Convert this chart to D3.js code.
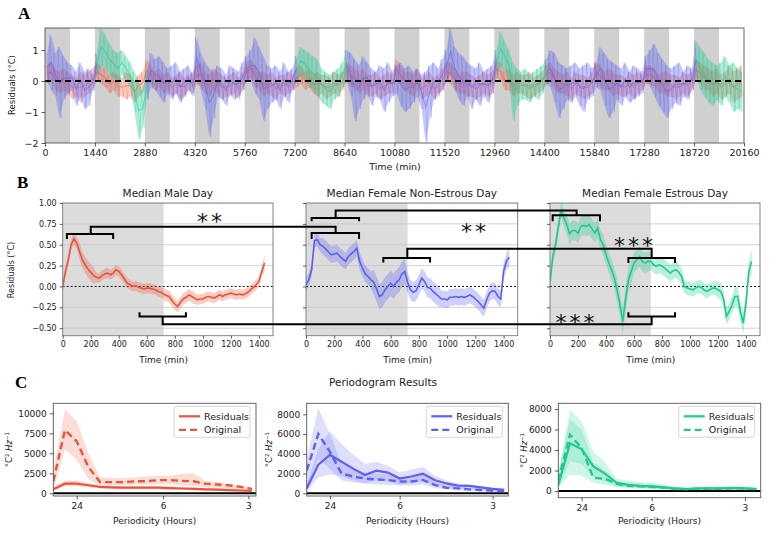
<!DOCTYPE html>
<html>
<head>
<meta charset="utf-8">
<script src="https://cdn.jsdelivr.net/npm/d3@7"></script>
<style>
body{margin:0;background:#fff}
svg{display:block;font-family:"DejaVu Sans",sans-serif}
</style>
</head>
<body>
<svg id="fig" width="777" height="535"></svg>
<script>
// ---- panel A : 14 days, 120 min bins (envelope of the traces) ----
var aTicks = d3.range(0, 20161, 1440);
var estrousDays = [1, 5, 9, 13];
var maleHi = [
 0.5,0.6,0.4,0.3,0.4,0.3, 0.2,0.1,0.3,0.2,0.3,0.4,
 0.6,0.5,0.4,0.2,0.3,0.2, 0.1,0.3,0.2,0.0,0.2,0.3,
 0.7,0.5,0.3,0.4,0.2,0.3, 0.1,0.2,0.3,0.1,0.2,0.3,
 0.5,0.6,0.3,0.2,0.4,0.3, 0.2,0.1,0.2,0.3,0.1,0.3,
 0.6,0.7,0.5,0.3,0.3,0.2, 0.3,0.1,0.2,0.2,0.3,0.2,
 0.4,0.5,0.3,0.4,0.2,0.3, 0.2,0.2,0.1,0.3,0.2,0.3,
 0.6,0.5,0.4,0.3,0.4,0.2, 0.2,0.3,0.1,0.2,0.3,0.2,
 0.7,0.5,0.3,0.3,0.2,0.4, 0.1,0.2,0.3,0.1,0.2,0.4,
 0.6,0.6,0.4,0.2,0.3,0.3, 0.2,0.1,0.2,0.3,0.2,0.3,
 0.7,0.6,0.3,0.4,0.2,0.3, 0.2,0.2,0.3,0.1,0.2,0.3,
 0.5,0.6,0.4,0.3,0.2,0.3, 0.1,0.3,0.2,0.2,0.1,0.3,
 0.6,0.5,0.3,0.4,0.3,0.2, 0.2,0.1,0.3,0.2,0.3,0.2,
 0.5,0.5,0.4,0.2,0.3,0.3, 0.2,0.2,0.1,0.3,0.2,0.3,
 0.7,0.6,0.5,0.4,0.3,0.4, 0.2,0.3,0.5,0.3,0.4,0.5
];
var maleLo = [
 -0.1,0.0,-0.3,-0.4,-0.3,-0.4, -0.6,-0.5,-0.7,-0.5,-0.4,-0.3,
 0.0,-0.1,-0.2,-0.4,-0.3,-0.5, -0.5,-0.6,-0.5,-0.7,-0.5,-0.4,
 0.0,-0.1,-0.3,-0.2,-0.4,-0.3, -0.5,-0.4,-0.6,-0.5,-0.3,-0.4,
 -0.1,-0.2,-0.4,-0.5,-0.3,-0.4, -0.6,-0.5,-0.5,-0.4,-0.6,-0.3,
 0.0,0.1,-0.2,-0.3,-0.5,-0.4, -0.5,-0.6,-0.4,-0.5,-0.4,-0.3,
 -0.2,-0.1,-0.3,-0.2,-0.4,-0.5, -0.4,-0.6,-0.5,-0.4,-0.5,-0.3,
 0.0,-0.2,-0.2,-0.4,-0.3,-0.5, -0.5,-0.4,-0.6,-0.5,-0.4,-0.4,
 0.1,-0.1,-0.3,-0.4,-0.5,-0.3, -0.6,-0.5,-0.4,-0.6,-0.5,-0.3,
 0.0,-0.1,-0.3,-0.4,-0.4,-0.5, -0.5,-0.6,-0.5,-0.4,-0.5,-0.4,
 0.1,0.0,-0.3,-0.3,-0.5,-0.4, -0.4,-0.5,-0.6,-0.5,-0.4,-0.3,
 -0.1,0.0,-0.3,-0.4,-0.4,-0.5, -0.6,-0.4,-0.5,-0.6,-0.5,-0.4,
 0.0,-0.2,-0.3,-0.3,-0.5,-0.4, -0.5,-0.5,-0.4,-0.6,-0.4,-0.3,
 -0.1,-0.1,-0.2,-0.4,-0.4,-0.5, -0.5,-0.6,-0.5,-0.4,-0.5,-0.3,
 0.0,-0.1,-0.3,-0.3,-0.5,-0.4, -0.6,-0.5,-0.4,-0.7,-0.6,-0.5
];
var femHi = [
 0.9,1.5,0.9,1.1,0.8,0.6, 0.5,0.3,0.6,0.3,0.4,0.2,
 0.9,1.7,1.5,1.2,1.0,0.9, 1.0,0.8,0.6,0.3,0.0,-0.3,
 0.3,0.9,0.7,0.8,0.6,0.4, 0.5,0.6,0.3,0.4,0.5,0.2,
 1.4,0.9,0.6,0.4,0.3,0.5, 0.4,0.2,0.5,0.4,0.3,0.6,
 0.8,1.0,1.4,1.1,0.8,0.5, 0.4,0.5,0.3,0.6,0.3,0.4,
 0.8,1.1,1.0,0.9,0.8,0.7, 0.4,0.3,0.2,0.3,0.4,0.6,
 1.0,0.9,0.7,0.5,0.8,0.6, 0.4,0.3,0.5,0.4,0.6,0.3,
 0.5,0.6,0.4,0.5,0.3,0.4, 0.2,0.3,0.5,0.6,0.4,0.7,
 1.0,1.7,1.1,0.9,0.8,0.6, 0.5,0.4,0.6,0.3,0.4,0.5,
 1.0,1.6,1.3,1.0,0.6,0.4, 0.3,0.4,0.2,0.3,0.4,0.5,
 0.7,1.0,0.9,0.6,0.5,0.4, 0.5,0.6,0.4,0.5,0.6,0.4,
 0.6,1.1,0.9,0.7,0.6,0.5, 0.4,0.6,0.3,0.5,0.4,0.3,
 0.8,1.0,1.2,0.9,0.7,0.5, 0.4,0.5,0.6,0.3,0.5,0.4,
 1.3,1.1,0.9,0.7,0.6,0.5, 0.6,0.8,0.5,0.6,0.4,0.3
];
var femLo = [
 0.0,-0.3,-0.5,-1.2,-0.6,-0.4, -0.3,-0.8,-0.5,-0.9,-0.8,-0.3,
 0.2,0.5,0.4,0.2,0.1,-0.1, 0.2,0.0,-0.2,-1.0,-1.9,-1.5,
 -0.6,-0.2,-0.3,-0.5,-0.7,-0.4, -0.6,-0.4,-0.7,-0.5,-0.3,-0.5,
 0.1,-0.3,-0.9,-1.8,-1.2,-0.5, -0.6,-0.8,-0.4,-0.6,-0.5,-0.3,
 0.0,0.0,-0.4,-0.6,-1.3,-0.9, -0.7,-0.6,-0.9,-0.5,-0.7,-0.3,
 0.0,0.2,0.1,-0.2,-0.3,-0.5, -0.7,-0.8,-0.9,-0.6,-0.5,-0.2,
 0.0,-0.5,-1.3,-0.9,-0.6,-0.4, -0.8,-0.5,-0.6,-1.0,-0.7,-0.5,
 -0.4,-0.8,-1.0,-0.9,-0.7,-0.5, -0.9,-2.0,-1.2,-0.6,-0.4,-0.3,
 0.0,0.2,-0.3,-0.6,-0.8,-0.5, -0.9,-0.6,-0.8,-0.5,-0.7,-0.4,
 0.2,0.5,0.3,0.0,-1.3,-0.8, -0.6,-0.6,-0.7,-0.5,-0.6,-0.4,
 -0.1,-0.2,-0.7,-1.2,-0.9,-0.6, -0.7,-0.5,-0.8,-1.0,-0.6,-0.5,
 -0.2,-0.3,-0.8,-1.2,-1.0,-0.6, -0.8,-0.5,-0.7,-0.6,-0.5,-0.4,
 0.0,-0.2,-0.5,-0.8,-1.0,-1.2, -0.9,-0.7,-0.8,-0.5,-0.6,-0.3,
 0.1,-0.3,-0.5,-0.7,-0.8,-0.6, -0.8,-0.5,-0.7,-1.0,-0.9,-1.0
];

// ---- panel B : median day, every 20 min ----
var bTitles = ["Median Male Day", "Median Female Non-Estrous Day", "Median Female Estrous Day"];
var bMale = [0.0,0.18,0.32,0.5,0.57,0.52,0.42,0.32,0.26,0.21,0.17,0.13,0.11,0.1,0.13,0.15,0.16,0.14,0.16,0.2,
 0.18,0.14,0.09,0.04,0.02,0.0,0.01,-0.01,-0.02,-0.03,-0.02,-0.02,-0.03,-0.04,-0.06,-0.07,-0.09,-0.11,-0.12,-0.17,
 -0.21,-0.24,-0.19,-0.15,-0.13,-0.1,-0.12,-0.14,-0.16,-0.15,-0.15,-0.13,-0.12,-0.13,-0.14,-0.12,-0.1,-0.12,-0.1,-0.09,
 -0.08,-0.09,-0.1,-0.09,-0.1,-0.09,-0.07,-0.04,-0.01,0.02,0.06,0.18,0.28];
var bNonEst = [0.02,0.08,0.2,0.55,0.56,0.5,0.48,0.45,0.41,0.38,0.39,0.4,0.36,0.33,0.3,0.36,0.39,0.42,0.46,0.3,
 0.22,0.15,0.12,0.08,0.05,-0.03,-0.12,-0.1,-0.04,0.0,0.04,0.0,0.05,0.08,0.15,0.18,0.05,-0.04,-0.07,-0.05,
 0.02,0.1,0.06,-0.01,-0.02,-0.06,-0.09,-0.12,-0.15,-0.15,-0.16,-0.13,-0.13,-0.12,-0.13,-0.12,-0.13,-0.12,-0.1,-0.12,
 -0.15,-0.18,-0.22,-0.26,-0.16,-0.08,-0.05,-0.06,-0.12,-0.15,0.18,0.3,0.35];
var bEstrous = [0.05,0.36,0.5,0.72,0.92,0.82,0.74,0.63,0.67,0.67,0.64,0.72,0.73,0.72,0.74,0.69,0.64,0.7,0.56,0.5,
 0.38,0.28,0.2,0.1,-0.05,-0.22,-0.42,-0.15,0.08,0.18,0.28,0.32,0.36,0.3,0.28,0.3,0.3,0.26,0.24,0.26,
 0.24,0.22,0.19,0.16,0.19,0.2,0.17,0.12,0.0,-0.02,-0.03,-0.04,-0.02,0.0,-0.01,-0.04,-0.06,-0.04,-0.02,-0.02,
 -0.04,-0.06,-0.15,-0.36,-0.3,-0.22,-0.12,-0.12,-0.3,-0.44,-0.2,0.18,0.3];
// half width of the shaded band, per 120 min block
var bMaleErr = [0.07,0.1,0.06,0.06,0.06,0.06,0.07,0.07,0.06,0.06,0.06,0.06,0.1];
var bNonEstErr = [0.08,0.1,0.1,0.1,0.15,0.15,0.12,0.12,0.1,0.1,0.1,0.1,0.12];
var bEstrousErr = [0.1,0.12,0.12,0.12,0.15,0.12,0.1,0.1,0.08,0.08,0.1,0.12,0.15];
var bXTicks = [0,200,400,600,800,1000,1200,1400];
var bYTicks = [-0.5,-0.25,0,0.25,0.5,0.75,1.0];

// ---- panel C : periodograms, frequency bins ----
var cPeriodLabels = ["24", "6", "3"];
var cMaleRes = [500,1200,1200,1000,800,750,700,700,700,700,650,600,550,500,450,400,350,300];
var cMaleResLo = [300,900,900,750,600,550,500,500,500,500,450,420,380,350,300,250,220,180];
var cMaleResHi = [800,1600,1600,1300,1000,950,900,900,900,900,850,800,750,700,650,550,480,400];
var cMaleOrig = [1500,7900,6500,3300,1400,1400,1400,1500,1500,1650,1650,1550,1500,1200,1100,1000,800,550];
var cMaleOrigLo = [400,5500,4200,1800,1000,1000,1000,1100,1100,1100,1100,1000,900,800,700,600,500,350];
var cMaleOrigHi = [2800,10500,9000,5000,2000,1900,1900,2000,2100,2200,2200,2400,2500,1500,1400,1200,1000,700];
var cNonRes = [500,2900,3900,3200,2500,1850,2300,2100,1500,1700,2000,1350,1000,780,750,600,450,350];
var cNonResLo = [200,1600,1900,1700,1300,1000,1300,1200,900,1000,1200,800,600,450,450,350,250,200];
var cNonResHi = [900,4500,6300,5000,3900,3000,3200,2800,2100,2400,2700,1800,1300,1000,900,700,600,500];
var cNonOrig = [2300,6000,4200,2000,1700,1500,1400,1350,1200,1200,1350,850,570,500,400,340,270,240];
var cNonOrigLo = [500,3500,2500,1300,1100,1000,900,850,800,800,900,550,380,320,250,200,150,120];
var cNonOrigHi = [3500,8600,6000,3000,2500,2100,2000,1900,1700,1700,1900,1200,800,700,550,450,380,330];
var cEstRes = [600,4650,4100,2400,1700,800,600,500,450,350,250,200,250,250,250,300,250,200];
var cEstResLo = [300,2900,2600,1400,900,450,350,300,250,200,120,100,120,120,120,150,120,100];
var cEstResHi = [1500,7900,6800,3800,2800,1200,1000,900,800,700,400,350,400,400,400,450,400,350];
var cEstOrig = [1000,5500,4200,1300,1200,700,500,450,400,350,200,180,220,230,230,280,230,180];
var cEstOrigLo = [300,1600,1500,800,600,400,300,250,200,150,100,90,100,110,110,130,110,90];
var cEstOrigHi = [2000,7000,6000,2800,2000,1000,800,700,650,550,350,300,350,350,350,400,350,300];

var RED = "#ea553a", BLUE = "#5d61f2", GREEN = "#1fcb91";
var svg = d3.select("#fig");
var minus = function(s){ return String(s).replace("-", "\u2212"); };

function styleAxis(g, fs) {
  g.select(".domain").remove();
  g.attr("font-family", "DejaVu Sans, sans-serif").attr("font-size", fs);
  g.selectAll("text").attr("fill", "#222");
  g.selectAll("line").attr("stroke", "#333").attr("stroke-width", 0.8);
}
function panelLetter(t, x, y) {
  svg.append("text").attr("x", x).attr("y", y).text(t)
    .attr("font-family", "Liberation Serif, serif").attr("font-weight", "bold").attr("font-size", 17);
}
function rotLabel(txt, x, y, fs) {
  return svg.append("text").attr("transform", "translate(" + x + "," + y + ") rotate(-90)")
    .attr("text-anchor", "middle").attr("font-size", fs).attr("fill", "#222").text(txt);
}

// ================= A =================
panelLetter("A", 18, 19);
var xA = d3.scaleLinear().domain([0, 20160]).range([45, 744]);
var yA = d3.scaleLinear().domain([-2, 1.71]).range([143, 28]);
svg.append("clipPath").attr("id", "clipA").append("rect")
  .attr("x", 45).attr("y", 28).attr("width", 699).attr("height", 115);
var gA = svg.append("g").attr("clip-path", "url(#clipA)");
gA.selectAll("rect.night").data(d3.range(14)).enter().append("rect")
  .attr("x", function(d){ return xA(d * 1440); })
  .attr("width", function(d){ return xA(d * 1440 + 720) - xA(d * 1440); })
  .attr("y", 28).attr("height", 115).attr("fill", "#d0d0d0");

var binT = function(i){ return i * 120 + 60; };
var areaA = d3.area().x(function(d){ return xA(d.t); })
  .y0(function(d){ return yA(d.lo); }).y1(function(d){ return yA(d.hi); });
var midA = d3.line().x(function(d){ return xA(d.t); })
  .y(function(d){ return yA((d.hi + d.lo) / 2); });
// min/max trace: visits the top and the bottom of every bin
function zigzag(seg) {
  var pts = [];
  seg.forEach(function(d){
    pts.push([xA(d.t - 40), yA(d.hi)]);
    pts.push([xA(d.t + 40), yA(d.lo)]);
  });
  return d3.line()(pts);
}
function drawSeries(seg, col, aOp, lOp) {
  gA.append("path").datum(seg).attr("d", areaA).attr("fill", col).attr("opacity", aOp);
  gA.append("path").attr("d", zigzag(seg)).attr("fill", "none").attr("stroke", col)
    .attr("stroke-width", 0.7).attr("opacity", lOp);
  gA.append("path").datum(seg).attr("d", midA).attr("fill", "none").attr("stroke", col)
    .attr("stroke-width", 1.1).attr("opacity", lOp + 0.15);
}
var male = maleHi.map(function(h, i){ return {t: binT(i), hi: h, lo: maleLo[i]}; });
drawSeries(male, RED, 0.3, 0.3);

var fem = femHi.map(function(h, i){ return {t: binT(i), hi: h, lo: femLo[i]}; });
d3.range(14).forEach(function(day){
  var seg = fem.slice(day * 12, Math.min(day * 12 + 13, fem.length));
  var col = estrousDays.indexOf(day) >= 0 ? GREEN : BLUE;
  drawSeries(seg, col, 0.35, 0.35);
});
gA.append("line").attr("x1", 45).attr("x2", 744).attr("y1", yA(0)).attr("y2", yA(0))
  .attr("stroke", "#000").attr("stroke-width", 1.8).attr("stroke-dasharray", "6,4");
svg.append("rect").attr("x", 45).attr("y", 28).attr("width", 699).attr("height", 115)
  .attr("fill", "none").attr("stroke", "#555").attr("stroke-width", 0.9);
styleAxis(svg.append("g").attr("transform", "translate(0,143)")
  .call(d3.axisBottom(xA).tickValues(aTicks).tickSize(3.5).tickFormat(d3.format("d"))), 9.5);
styleAxis(svg.append("g").attr("transform", "translate(45,0)")
  .call(d3.axisLeft(yA).tickValues([-2, -1, 0, 1]).tickSize(3.5).tickFormat(minus)), 9.5);
svg.append("text").attr("x", 395).attr("y", 170).attr("text-anchor", "middle")
  .attr("font-size", 9.5).attr("fill", "#222").text("Time (min)");
rotLabel("Residuals (\u00b0C)", 15, 85, 8.5);

// ================= B =================
panelLetter("B", 17, 188);
var bLay = [
  {left: 62.7, right: 273, vals: bMale, err: bMaleErr, col: RED},
  {left: 306, right: 517.7, vals: bNonEst, err: bNonEstErr, col: BLUE},
  {left: 550, right: 760, vals: bEstrous, err: bEstrousErr, col: GREEN}
];
var bTop = 203, bBot = 335.7;
var yB = d3.scaleLinear().domain([-0.59, 1.0]).range([bBot, bTop]);
bLay.forEach(function(p, k){
  p.x = d3.scaleLinear().domain([0, 1500]).range([p.left, p.right]);
  var w = p.right - p.left;
  svg.append("clipPath").attr("id", "clipB" + k).append("rect")
    .attr("x", p.left).attr("y", bTop).attr("width", w).attr("height", bBot - bTop);
  var g = svg.append("g").attr("clip-path", "url(#clipB" + k + ")");
  g.append("rect").attr("x", p.x(0)).attr("width", p.x(720) - p.x(0))
    .attr("y", bTop).attr("height", bBot - bTop).attr("fill", "#dcdcdc");
  g.selectAll("line.grid").data(bYTicks.filter(function(v){ return v !== 0; })).enter()
    .append("line").attr("x1", p.left).attr("x2", p.right)
    .attr("y1", function(v){ return yB(v); }).attr("y2", function(v){ return yB(v); })
    .attr("stroke", "#c8c8c8").attr("stroke-width", 0.8);
  g.append("line").attr("x1", p.left).attr("x2", p.right).attr("y1", yB(0)).attr("y2", yB(0))
    .attr("stroke", "#111").attr("stroke-width", 1).attr("stroke-dasharray", "2,2");
  var pts = p.vals.map(function(v, i){
    var e = p.err[Math.min(p.err.length - 1, Math.floor(i * 20 / 120))];
    return {t: i * 20, v: v, lo: v - e, hi: v + e};
  });
  g.append("path").datum(pts).attr("fill", p.col).attr("opacity", 0.3)
    .attr("d", d3.area().x(function(d){ return p.x(d.t); })
      .y0(function(d){ return yB(d.lo); }).y1(function(d){ return yB(d.hi); }));
  g.append("path").datum(pts).attr("fill", "none").attr("stroke", p.col).attr("stroke-width", 1.6)
    .attr("d", d3.line().x(function(d){ return p.x(d.t); }).y(function(d){ return yB(d.v); }));
  svg.append("rect").attr("x", p.left).attr("y", bTop).attr("width", w).attr("height", bBot - bTop)
    .attr("fill", "none").attr("stroke", "#777").attr("stroke-width", 0.9);
  styleAxis(svg.append("g").attr("transform", "translate(0," + bBot + ")")
    .call(d3.axisBottom(p.x).tickValues(bXTicks).tickSize(3).tickFormat(d3.format("d"))), 8);
  var ay = svg.append("g").attr("transform", "translate(" + p.left + ",0)")
    .call(d3.axisLeft(yB).tickValues(bYTicks).tickSize(3)
      .tickFormat(k === 0 ? function(v){ return minus(d3.format(".2f")(v)); } : ""));
  styleAxis(ay, 8);
  svg.append("text").attr("x", (p.left + p.right) / 2).attr("y", 197).attr("text-anchor", "middle")
    .attr("font-size", 10.5).attr("fill", "#222").text(bTitles[k]);
  svg.append("text").attr("x", p.x(720)).attr("y", 363).attr("text-anchor", "middle")
    .attr("font-size", 9).attr("fill", "#222").text("Time (min)");
});
rotLabel("Residuals (\u00b0C)", 14, 270, 8);

// significance brackets [subplot, t0, t1, level, hook end]
var brackets = [
  [0, 30, 360, 0.63, 0.57], [1, 40, 376, 0.64, 0.57],
  [1, 40, 376, 0.82, 0.78], [2, 19, 357, 0.853, 0.78],
  [1, 548, 879, 0.341, 0.288], [2, 560, 893, 0.341, 0.28],
  [0, 548, 879, -0.36, -0.31], [2, 560, 893, -0.36, -0.31]
];
var connectors = [
  [[0, 200, 0.63], [0, 200, 0.714], [1, 210, 0.714], [1, 210, 0.64]],
  [[1, 210, 0.82], [1, 210, 0.91], [2, 190, 0.91], [2, 190, 0.853]],
  [[1, 718, 0.341], [1, 718, 0.453], [2, 726, 0.453], [2, 726, 0.341]],
  [[0, 713, -0.36], [0, 713, -0.454], [2, 726, -0.454], [2, 726, -0.36]]
];
var stars = [[0, 1058, 0.84, "**"], [1, 1198, 0.73, "**"], [2, 607, 0.56, "***"], [2, 190, -0.36, "***"]];
var gBr = svg.append("g").attr("fill", "none").attr("stroke", "#000").attr("stroke-width", 2);
brackets.forEach(function(b){
  var x = bLay[b[0]].x;
  gBr.append("path").attr("d", d3.line()([[x(b[1]), yB(b[4])], [x(b[1]), yB(b[3])],
    [x(b[2]), yB(b[3])], [x(b[2]), yB(b[4])]]));
});
connectors.forEach(function(c){
  gBr.append("path").attr("d", d3.line()(c.map(function(q){ return [bLay[q[0]].x(q[1]), yB(q[2])]; })));
});
stars.forEach(function(s){
  svg.append("text").attr("x", bLay[s[0]].x(s[1])).attr("y", yB(s[2]) + 13)
    .attr("text-anchor", "middle").attr("font-size", 22).attr("letter-spacing", 3)
    .attr("fill", "#111").text(s[3]);
});

// ================= C =================
panelLetter("C", 15, 388);
svg.append("text").attr("x", 383).attr("y", 386).attr("text-anchor", "middle")
  .attr("font-size", 10.5).attr("fill", "#222").text("Periodogram Results");
var cLay = [
  {left: 53.3, right: 256, bot: 496, ydom: [-340, 11250], yt: [0, 2500, 5000, 7500, 10000],
   xt: [2, 9.4, 16.7], col: RED, res: cMaleRes, resLo: cMaleResLo, resHi: cMaleResHi,
   org: cMaleOrig, orgLo: cMaleOrigLo, orgHi: cMaleOrigHi, ylab: 12},
  {left: 306.7, right: 508.3, bot: 496, ydom: [-270, 9114], yt: [0, 2000, 4000, 6000, 8000],
   xt: [2, 8, 16], col: BLUE, res: cNonRes, resLo: cNonResLo, resHi: cNonResHi,
   org: cNonOrig, orgLo: cNonOrigLo, orgHi: cNonOrigHi, ylab: 272},
  {left: 558.3, right: 760.7, bot: 497.7, ydom: [-650, 8556], yt: [0, 2000, 4000, 6000, 8000],
   xt: [2, 8, 16], col: GREEN, res: cEstRes, resLo: cEstResLo, resHi: cEstResHi,
   org: cEstOrig, orgLo: cEstOrigLo, orgHi: cEstOrigHi, ylab: 527}
];
var cTop = 403.3;
cLay.forEach(function(p, k){
  var x = d3.scaleLinear().domain([0, 17.35]).range([p.left, p.right]);
  var y = d3.scaleLinear().domain(p.ydom).range([p.bot, cTop]);
  var w = p.right - p.left, h = p.bot - cTop;
  svg.append("clipPath").attr("id", "clipC" + k).append("rect")
    .attr("x", p.left).attr("y", cTop).attr("width", w).attr("height", h);
  var g = svg.append("g").attr("clip-path", "url(#clipC" + k + ")");
  var band = function(lo, hi){
    return g.append("path").datum(lo.map(function(v, i){ return [i, v, hi[i]]; }))
      .attr("fill", p.col).attr("opacity", 0.2)
      .attr("d", d3.area().x(function(d){ return x(d[0]); })
        .y0(function(d){ return y(d[1]); }).y1(function(d){ return y(d[2]); }));
  };
  band(p.orgLo, p.orgHi);
  band(p.resLo, p.resHi);
  var ln = d3.line().x(function(d, i){ return x(i); }).y(function(d){ return y(d); });
  g.append("line").attr("x1", p.left).attr("x2", p.right).attr("y1", y(0)).attr("y2", y(0))
    .attr("stroke", "#000").attr("stroke-width", 2);
  g.append("path").datum(p.res).attr("d", ln).attr("fill", "none")
    .attr("stroke", p.col).attr("stroke-width", 2.2);
  g.append("path").datum(p.org).attr("d", ln).attr("fill", "none")
    .attr("stroke", p.col).attr("stroke-width", 2.4).attr("stroke-dasharray", "7,4");
  svg.append("rect").attr("x", p.left).attr("y", cTop).attr("width", w).attr("height", h)
    .attr("fill", "none").attr("stroke", "#555").attr("stroke-width", 0.9);
  styleAxis(svg.append("g").attr("transform", "translate(0," + p.bot + ")")
    .call(d3.axisBottom(x).tickValues(p.xt).tickSize(3.5)
      .tickFormat(function(d, i){ return cPeriodLabels[i]; })), 9);
  styleAxis(svg.append("g").attr("transform", "translate(" + p.left + ",0)")
    .call(d3.axisLeft(y).tickValues(p.yt).tickSize(3.5).tickFormat(d3.format("d"))), 9);
  svg.append("text").attr("x", (p.left + p.right) / 2).attr("y", 524).attr("text-anchor", "middle")
    .attr("font-size", 9).attr("fill", "#222").text("Periodicity (Hours)");
  var yl = svg.append("text").attr("transform", "translate(" + p.ylab + "," + (cTop + h / 2) + ") rotate(-90)")
    .attr("text-anchor", "middle").attr("font-size", 8.5).attr("fill", "#222");
  yl.append("tspan").text("\u00b0C\u00b2 ");
  yl.append("tspan").attr("font-style", "italic").text("Hz");
  yl.append("tspan").text("\u207b\u00b9");
  // legend
  var lw = 76, lx = p.right - 6 - lw, ly = cTop + 3;
  var lg = svg.append("g");
  lg.append("rect").attr("x", lx).attr("y", ly).attr("width", lw).attr("height", 31).attr("rx", 2)
    .attr("fill", "#fff").attr("fill-opacity", 0.85).attr("stroke", "#ccc").attr("stroke-width", 0.8);
  [["Residuals", null], ["Original", "7,4"]].forEach(function(e, j){
    var yy = ly + 10 + j * 13.5;
    lg.append("line").attr("x1", lx + 5).attr("x2", lx + 26).attr("y1", yy).attr("y2", yy)
      .attr("stroke", p.col).attr("stroke-width", 2.2).attr("stroke-dasharray", e[1]);
    lg.append("text").attr("x", lx + 30).attr("y", yy + 3.5).attr("font-size", 9.5)
      .attr("fill", "#222").text(e[0]);
  });
});
</script>
</body>
</html>
